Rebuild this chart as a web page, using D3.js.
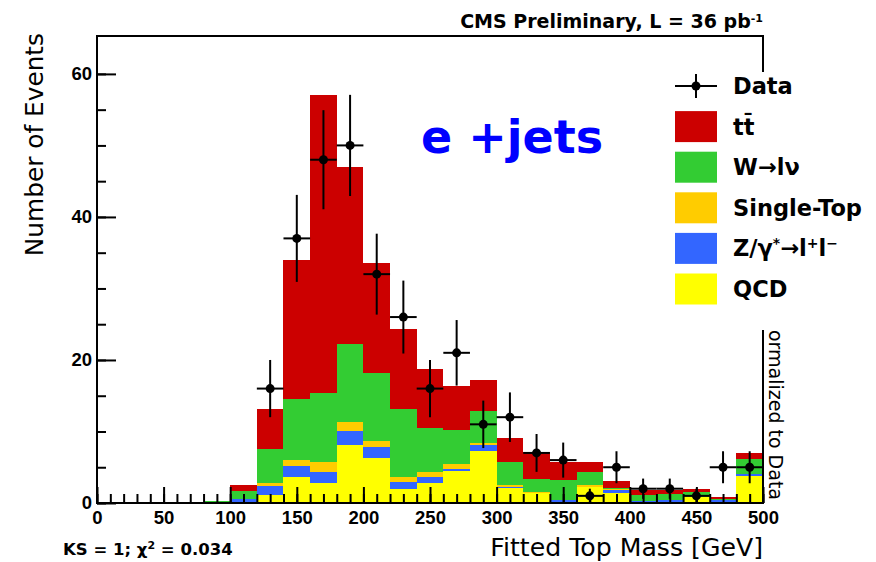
<!DOCTYPE html>
<html>
<head>
<meta charset="utf-8">
<script src="https://cdn.jsdelivr.net/npm/d3@7"></script>
<style>
  body { margin: 0; background: #fff; }
  text { font-family: "DejaVu Sans", sans-serif; }
</style>
</head>
<body>
<div class="chart"></div>
<script>
// Fitted top mass, e+jets, 20 GeV bins (lower edges)
const binLow = [0, 20, 40, 60, 80, 100, 120, 140, 160, 180, 200, 220, 240,
                260, 280, 300, 320, 340, 360, 380, 400, 420, 440, 460, 480];
const binWidth = 20;

// stacked MC components (bottom -> top)
const qcd       = [0, 0, 0, 0, 0,   0,   1.1, 3.7, 2.85, 8.1, 6.35, 1.95, 2.85, 4.5, 7.3, 2.05, 1.35, 0,   2.3, 1.45, 0,   0,   0.8, 0,    3.8];
const zjets     = [0, 0, 0, 0, 0,   0.6, 1.3, 1.5, 1.45, 2.0, 1.45, 1.05, 0.85, 0.2, 0.8, 0.25, 0,    0.4, 0,   0.35, 0.3, 0.4, 0,   0.35, 0.25];
const singleTop = [0, 0, 0, 0, 0,   0,   0.45, 0.8, 1.4, 1.2, 0.9, 0.7, 0.6, 0.8, 0.35, 0.2, 0.15, 0,   0.2, 0.1,  0,   0,   0,   0,    0.05];
const wjets     = [0, 0, 0, 0, 0.3, 1.1, 4.65, 8.6, 9.75, 10.9, 9.5, 9.4, 6.2, 4.7, 4.45, 3.3, 1.8, 2.8, 1.9, 0.15, 0.8, 0.9, 0.8, 0.25, 2.0];
const ttbar     = [0, 0, 0, 0, 0,   0.8, 5.6, 19.4, 41.55, 24.8, 15.3, 11.2, 8.2, 6.2, 4.3, 3.25, 3.9, 2.6, 1.4, 1.05, 0.7, 0.5, 0.35, 0.2, 0.85];

// observed events
const dataCounts = [0, 0, 0, 0, 0, 0, 16, 37, 48, 50, 32, 26, 16, 21, 11, 12, 7, 6, 1, 5, 2, 2, 1, 5, 5];

const xMajorTicks = [0, 50, 100, 150, 200, 250, 300, 350, 400, 450, 500];
const yMajorTicks = [0, 20, 40, 60];

const stackKeys = ["qcd", "zjets", "singleTop", "wjets", "ttbar"];
const colors = {
    qcd: "#ffff00",
    zjets: "#3366ff",
    singleTop: "#ffcc00",
    wjets: "#33cc33",
    ttbar: "#cc0000"
};

const table = binLow.map((lo, i) => ({
    lo: lo,
    qcd: qcd[i], zjets: zjets[i], singleTop: singleTop[i], wjets: wjets[i], ttbar: ttbar[i],
    data: dataCounts[i]
}));

const width = 876, height = 562;
const margin = { top: 36, right: 113, bottom: 59, left: 97 };

const svg = d3.select(".chart")
    .append("svg")
    .attr("width", width)
    .attr("height", height);

const x = d3.scaleLinear().domain([0, 500]).range([margin.left, width - margin.right]);
const y = d3.scaleLinear().domain([0, 65.3]).range([height - margin.bottom, margin.top]);

// stacked histogram
const series = d3.stack().keys(stackKeys)(table);

svg.append("g")
    .selectAll("g")
    .data(series)
    .enter()
    .append("g")
    .attr("fill", d => colors[d.key])
    .selectAll("rect")
    .data(d => d.filter(s => s[1] - s[0] > 0))
    .enter()
    .append("rect")
    .attr("x", d => x(d.data.lo))
    .attr("width", d => x(d.data.lo + binWidth) - x(d.data.lo))
    .attr("y", d => y(d[1]))
    .attr("height", d => y(d[0]) - y(d[1]))
    .attr("shape-rendering", "crispEdges");

// data points with sqrt(N) errors
const pts = svg.append("g")
    .selectAll("g")
    .data(table.filter(d => d.data > 0))
    .enter()
    .append("g");

pts.append("line")
    .attr("x1", d => x(d.lo + binWidth / 2))
    .attr("x2", d => x(d.lo + binWidth / 2))
    .attr("y1", d => y(d.data - Math.sqrt(d.data)))
    .attr("y2", d => y(d.data + Math.sqrt(d.data)))
    .attr("stroke", "#000")
    .attr("stroke-width", 2);

pts.append("line")
    .attr("x1", d => x(d.lo))
    .attr("x2", d => x(d.lo + binWidth))
    .attr("y1", d => y(d.data))
    .attr("y2", d => y(d.data))
    .attr("stroke", "#000")
    .attr("stroke-width", 2);

pts.append("circle")
    .attr("cx", d => x(d.lo + binWidth / 2))
    .attr("cy", d => y(d.data))
    .attr("r", 4.5)
    .attr("fill", "#000");

// axes (ticks drawn inward, ROOT style)
const x0 = y(0);
svg.append("g")
    .attr("transform", `translate(0, ${x0})`)
    .call(d3.axisBottom(x).tickValues(d3.range(0, 501, 10)).tickSize(-9).tickSizeOuter(0).tickFormat(""))
    .call(g => g.select(".domain").remove());

svg.append("g")
    .attr("class", "xmajor")
    .attr("transform", `translate(0, ${x0})`)
    .call(d3.axisBottom(x).tickValues(xMajorTicks).tickSize(-16).tickSizeOuter(0).tickPadding(8))
    .call(g => g.select(".domain").remove());

svg.append("g")
    .attr("transform", `translate(${margin.left}, 0)`)
    .call(d3.axisLeft(y).tickValues(d3.range(0, 65, 5)).tickSize(-9).tickSizeOuter(0).tickFormat(""))
    .call(g => g.select(".domain").remove());

svg.append("g")
    .attr("class", "ymajor")
    .attr("transform", `translate(${margin.left}, 0)`)
    .call(d3.axisLeft(y).tickValues(yMajorTicks).tickSize(-19).tickSizeOuter(0).tickPadding(5))
    .call(g => g.select(".domain").remove());

svg.selectAll(".tick line").attr("stroke", "#000").attr("stroke-width", 2);
svg.selectAll(".xmajor text, .ymajor text")
    .attr("fill", "#000")
    .style("font-family", "'Liberation Sans', Arial, sans-serif")
    .style("font-weight", "bold")
    .style("font-size", "18.5px");

// frame
svg.append("rect")
    .attr("x", margin.left)
    .attr("y", margin.top)
    .attr("width", x(500) - margin.left)
    .attr("height", y(0) - margin.top)
    .attr("fill", "none")
    .attr("stroke", "#000")
    .attr("stroke-width", 2);

// side note, partly hidden by the legend
svg.append("text")
    .attr("transform", "translate(769, 500) rotate(90)")
    .attr("text-anchor", "end")
    .style("font-size", "19px")
    .text("Normalized to Data");

// legend
const legendX = 675, legendY0 = 86, legendStep = 40.6;
svg.append("rect")
    .attr("x", 666).attr("y", 72)
    .attr("width", 210).attr("height", 258)
    .attr("fill", "#fff");

const legendEntries = [
    { key: "data", parts: [["Data", 0]] },
    { key: "ttbar", parts: [["tt\u0304", 0]] },
    { key: "wjets", parts: [["W\u2192l\u03bd", 0]] },
    { key: "singleTop", parts: [["Single-Top", 0]] },
    { key: "zjets", parts: [["Z/\u03b3", 0], ["*", 1], ["\u2192l", 0], ["+", 1], ["l", 0], ["\u2212", 1]] },
    { key: "qcd", parts: [["QCD", 0]] }
];

const leg = svg.append("g")
    .selectAll("g")
    .data(legendEntries)
    .enter()
    .append("g")
    .attr("transform", (d, i) => `translate(0, ${legendY0 + i * legendStep})`);

leg.filter(d => d.key !== "data")
    .append("rect")
    .attr("x", legendX)
    .attr("y", -15.5)
    .attr("width", 42)
    .attr("height", 31)
    .attr("fill", d => colors[d.key]);

const dataLeg = leg.filter(d => d.key === "data");
dataLeg.append("line")
    .attr("x1", legendX).attr("x2", legendX + 42)
    .attr("stroke", "#000").attr("stroke-width", 2);
dataLeg.append("line")
    .attr("x1", legendX + 21).attr("x2", legendX + 21)
    .attr("y1", -12).attr("y2", 12)
    .attr("stroke", "#000").attr("stroke-width", 2);
dataLeg.append("circle")
    .attr("cx", legendX + 21).attr("r", 4.5).attr("fill", "#000");

const legText = leg.append("text")
    .attr("x", 733)
    .attr("y", 8)
    .style("font-size", "22.5px")
    .style("font-weight", "bold");

legText.selectAll("tspan")
    .data(d => d.parts)
    .enter()
    .append("tspan")
    .attr("baseline-shift", p => p[1] ? "super" : null)
    .style("font-size", p => p[1] ? "14px" : null)
    .text(p => p[0]);

// channel label
svg.append("text")
    .attr("x", 421)
    .attr("y", 153)
    .attr("fill", "#0000ff")
    .style("font-size", "46px")
    .style("font-weight", "bold")
    .text("e +jets");

// header
const header = svg.append("text")
    .attr("x", 763)
    .attr("y", 28)
    .attr("text-anchor", "end")
    .style("font-size", "19px")
    .style("font-weight", "bold");
header.append("tspan").text("CMS Preliminary, L = 36 pb");
header.append("tspan").attr("baseline-shift", "super").style("font-size", "11px").text("-1");

// axis titles
svg.append("text")
    .attr("transform", "translate(43, 33) rotate(-90)")
    .attr("text-anchor", "end")
    .style("font-size", "24.8px")
    .text("Number of Events");

svg.append("text")
    .attr("x", 763)
    .attr("y", 556)
    .attr("text-anchor", "end")
    .style("font-size", "25.2px")
    .text("Fitted Top Mass [GeV]");

// fit summary
const ks = svg.append("text")
    .attr("x", 63)
    .attr("y", 555)
    .style("font-size", "16.5px")
    .style("font-weight", "bold");
ks.append("tspan").text("KS = 1; \u03c7");
ks.append("tspan").attr("baseline-shift", "super").style("font-size", "11px").text("2");
ks.append("tspan").text(" = 0.034");
</script>
</body>
</html>
